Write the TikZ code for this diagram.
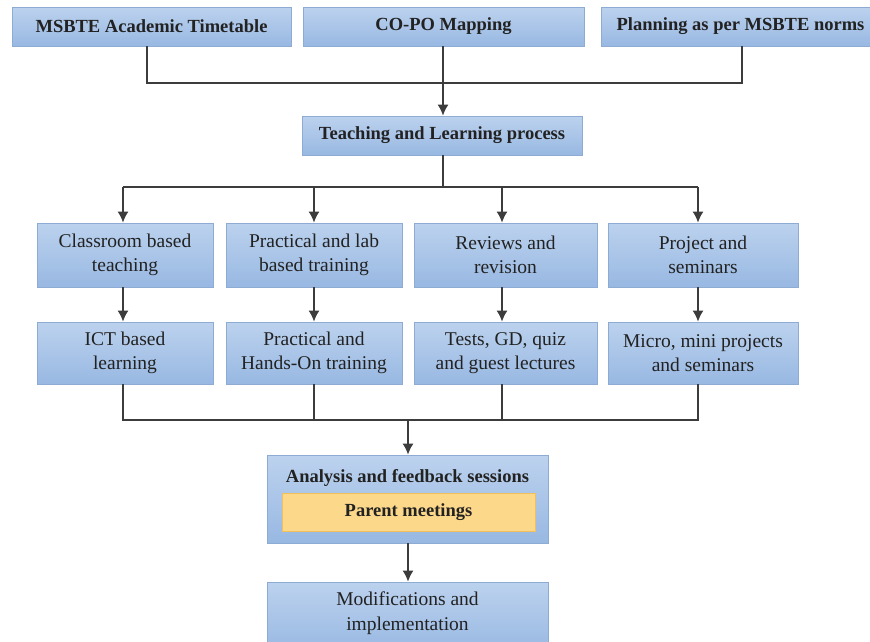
\documentclass[tikz,border=0pt]{standalone}
\usepackage{fontspec}
\setmainfont{Liberation Serif}
\usetikzlibrary{arrows.meta}
\definecolor{boxtop}{HTML}{BCD2EE}
\definecolor{boxbot}{HTML}{98B8E2}
\definecolor{boxline}{HTML}{8EABD4}
\definecolor{parentfill}{HTML}{FCD88A}
\definecolor{parentline}{HTML}{F2C05A}
\definecolor{wire}{HTML}{3C3C3C}
\definecolor{ink}{HTML}{222222}
\tikzset{
  blockbox/.style={draw=boxline, line width=0.8pt, top color=boxtop, bottom color=boxbot,
    text=ink, align=center, inner sep=0pt, font=\fontsize{19.5}{24}\selectfont},
  headbox/.style={blockbox, font=\fontsize{18.5}{23}\selectfont\bfseries},
  parentbox/.style={draw=parentline, line width=1pt, fill=parentfill, text=ink,
    inner sep=0pt, font=\fontsize{18.5}{23}\selectfont\bfseries},
  wireline/.style={draw=wire, line width=1.4pt},
  flowarrow/.style={wireline, -{Latex[length=11pt,width=11pt]}}
}
\begin{document}
\begin{tikzpicture}[x=1pt,y=-1pt]
\useasboundingbox (0,0) rectangle (870,641);
\begin{scope}
\clip (0,0) rectangle (870,641);
% top sources
\node[headbox, minimum width=279pt, minimum height=39pt] (tt) at (151.5,26.5) {MSBTE Academic Timetable};
\node[headbox, minimum width=281pt, minimum height=39pt] (co) at (443.5,26.5) {CO-PO Mapping};
\node[headbox, minimum width=279pt, minimum height=39pt] (pl) at (740.5,26.5) {Planning as per MSBTE norms};
% central process
\node[headbox, minimum width=280pt, minimum height=39pt] (tl) at (442,135.5) {Teaching and Learning process};
% four streams
\node[blockbox, minimum width=176pt, minimum height=64pt] (cb) at (125,255) {Classroom based\\teaching};
\node[blockbox, minimum width=176pt, minimum height=64pt] (pb) at (314,255) {Practical and lab\\based training};
\node[blockbox, minimum width=183pt, minimum height=64pt] (rr) at (505.5,255) {Reviews and\\revision};
\node[blockbox, minimum width=190pt, minimum height=64pt] (ps) at (703,255) {Project and\\seminars};
\node[blockbox, minimum width=176pt, minimum height=62pt] (ict) at (125,353) {ICT based\\learning};
\node[blockbox, minimum width=176pt, minimum height=62pt] (ho) at (314,353) {Practical and\\Hands-On training};
\node[blockbox, minimum width=183pt, minimum height=62pt] (tg) at (505.5,353) {Tests, GD, quiz\\and guest lectures};
\node[blockbox, minimum width=190pt, minimum height=62pt] (mm) at (703,353) {Micro, mini projects\\and seminars};
% feedback and outcome
\node[blockbox, minimum width=281pt, minimum height=88pt] (an) at (407.5,499) {};
\node[font=\fontsize{18.5}{23}\selectfont\bfseries, text=ink, anchor=base] (antext) at (407.5,482) {Analysis and feedback sessions};
\node[parentbox, minimum width=253pt, minimum height=38pt] (pm) at (408.5,512) {Parent meetings};
\node[blockbox, minimum width=281pt, minimum height=70pt] (mod) at (407.5,617) {};
\node[font=\fontsize{19.5}{25}\selectfont, text=ink, align=center] (modtext) at (407.5,613) {Modifications and\\implementation};
% junction points
\coordinate (j1) at (443,83);
\coordinate (j2) at (443,187);
\coordinate (j2l) at (123,187);
\coordinate (j2r) at (698,187);
\coordinate (j3) at (408,420);
% top merge
\draw[wireline] ([xshift=-4.5pt]tt.south) |- (j1);
\draw[wireline] ([xshift=1.5pt]pl.south) |- (j1);
\draw[flowarrow] ([xshift=-0.5pt]co.south) -- ([xshift=-0.5pt]co.south |- tl.north);
% split into streams
\draw[wireline] ([xshift=1pt]tl.south) -- (j2);
\draw[wireline] (j2l) -- (j2r);
\draw[flowarrow] (j2l) -- (j2l |- cb.north);
\draw[flowarrow] (pb.north |- j2) -- (pb.north);
\draw[flowarrow] ([xshift=-3.5pt]rr.north |- j2) -- ([xshift=-3.5pt]rr.north);
\draw[flowarrow] (j2r) -- (j2r |- ps.north);
% stream steps
\draw[flowarrow] ([xshift=-2pt]cb.south) -- ([xshift=-2pt]ict.north);
\draw[flowarrow] (pb.south) -- (ho.north);
\draw[flowarrow] ([xshift=-3.5pt]rr.south) -- ([xshift=-3.5pt]tg.north);
\draw[flowarrow] ([xshift=-5pt]ps.south) -- ([xshift=-5pt]mm.north);
% bottom merge
\draw[wireline] ([xshift=-2pt]ict.south) |- (j3);
\draw[wireline] ([xshift=-5pt]mm.south) |- (j3);
\draw[wireline] (ho.south) -- (ho.south |- j3);
\draw[wireline] ([xshift=-3.5pt]tg.south) -- ([xshift=-3.5pt]tg.south |- j3);
\draw[flowarrow] (j3) -- (j3 |- an.north);
\draw[flowarrow] (an.south -| j3) -- (mod.north -| j3);
\end{scope}
\end{tikzpicture}
\end{document}
